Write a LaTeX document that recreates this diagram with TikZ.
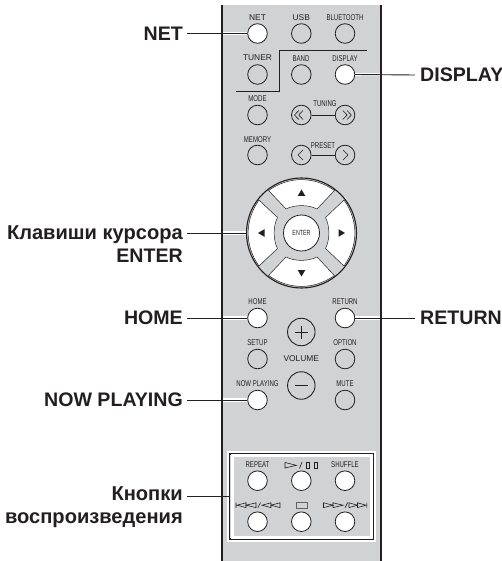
\documentclass[tikz,border=0pt]{standalone}
\usepackage{fontspec}
\setmainfont{Liberation Sans}
\newfontfamily\narrowf[FakeStretch=0.72]{Liberation Sans}
\definecolor{panelc}{HTML}{D1D2D4}
\definecolor{inkc}{HTML}{231F20}
\newcommand{\cyrsize}{\fontsize{20.1}{23}\selectfont}
\tikzset{
  x=1pt,y=-1pt,
  btn/.style={circle,draw=inkc,line width=.8pt,inner sep=0,minimum size=19.6pt,fill=panelc},
  wbtn/.style={btn,fill=white},
  big/.style={circle,draw=inkc,line width=.9pt,inner sep=0,minimum size=27.5pt,fill=panelc},
  wcap/.style={inner sep=0,text=inkc,font=\fontsize{8.4}{9}\selectfont},
  ncap/.style={inner sep=0,text=inkc,font=\fontsize{8.4}{9}\narrowf},
  lab/.style={inner sep=0,text=inkc,align=right,font=\fontsize{19.6}{23}\selectfont\bfseries},
  conn/.style={draw=inkc,line width=.9pt},
  halo/.style={draw=white,line width=3.6pt},
  icon/.style={draw=inkc,line width=.6pt,line join=miter},
}
\begin{document}
\begin{tikzpicture}
\useasboundingbox (0,0) rectangle (502,561);
% panel
\fill[panelc] (222,5) rectangle (381,561);
\draw[inkc,line width=1.8pt] (222,5) -- (222,561) (381,5) -- (381,561);
\coordinate (pw) at (223.2,0);
\coordinate (pe) at (379.8,0);
% tuner divider
\draw[inkc,line width=.6pt] (367,50.5) -- (279,50.5) -- (279,91.3) -- (236,91.3);
% buttons
\node[wbtn] (bnet) at (257.5,33.5) {};
\node[btn] (busb) at (301.3,33.5) {};
\node[btn] (bbt) at (345,33.5) {};
\node[btn] (btuner) at (257.5,74.5) {};
\node[btn] (bband) at (301.3,74.5) {};
\node[wbtn] (bdisp) at (345,74.5) {};
\node[btn] (bmode) at (257.5,115) {};
\node[btn] (btl) at (301.3,115) {};
\node[btn] (btr) at (345,115) {};
\node[btn] (bmem) at (257.5,155) {};
\node[btn] (bpl) at (301.3,155) {};
\node[btn] (bpr) at (345,155) {};
\node[wbtn] (bhome) at (257.5,318) {};
\node[wbtn] (bret) at (345,318) {};
\node[btn] (bsetup) at (257.5,359) {};
\node[btn] (bopt) at (345,359) {};
\node[wbtn] (bnow) at (257.5,400) {};
\node[btn] (bmute) at (345,400) {};
\node[big] (bplus) at (301.3,332) {};
\node[big] (bminus) at (301.3,385.5) {};
\draw[inkc,line width=.9pt] (294.5,332) -- (308,332) (301.3,325.5) -- (301.3,338.5);
\draw[inkc,line width=1.4pt] (294.5,385.5) -- (308,385.5);
\draw[inkc,line width=.7pt] (btl) -- (btr) (bpl) -- (bpr);
% chevrons
\draw[icon] (298.8,110.5) -- (294.5,115) -- (298.8,119.5) (303,110.5) -- (298.7,115) -- (303,119.5);
\draw[icon] (342.8,110.5) -- (347.1,115) -- (342.8,119.5) (347,110.5) -- (351.3,115) -- (347,119.5);
\draw[icon] (303,150) -- (298,155) -- (303,160);
\draw[icon] (343,150) -- (348,155) -- (343,160);
% small captions
\node[wcap] (cnet) at (257.5,18) {NET};
\node[wcap] (cusb) at (301.3,18) {USB};
\node[ncap] (cbt) at (345,18) {BLUETOOTH};
\node[wcap] (ctuner) at (257.5,58) {TUNER};
\node[ncap] (cband) at (301,59) {BAND};
\node[ncap] (cdisp) at (345,59) {DISPLAY};
\node[ncap] (cmode) at (257.5,99) {MODE};
\node[ncap] (ctun) at (325,104) {TUNING};
\node[ncap] (cmem) at (257.5,139.5) {MEMORY};
\node[ncap] (cpre) at (323,146) {PRESET};
\node[ncap] (chome) at (257.5,302) {HOME};
\node[ncap] (cret) at (345,302) {RETURN};
\node[ncap] (csetup) at (257.5,343) {SETUP};
\node[ncap] (copt) at (345,343) {OPTION};
\node[wcap] (cvol) at (301.3,359) {VOLUME};
\node[ncap] (cnow) at (257.5,384) {NOW PLAYING};
\node[ncap] (cmute) at (345,384) {MUTE};
% d-pad
\node[circle,draw=inkc,fill=panelc,line width=1.1pt,inner sep=0,minimum size=110pt] (dpad) at (301.5,233) {};
\foreach \a in {0,90,180,270}{
  \begin{scope}[shift={(dpad.center)},rotate=\a]
    \draw[fill=white,draw=inkc,line width=.5pt,line join=round]
      (-33,-42.5) .. controls (-12.5,-57) and (12.5,-57) .. (33,-42.5)
      -- (15.5,-24) .. controls (7,-28.5) and (-7,-28.5) .. (-15.5,-24) -- cycle;
    \fill[inkc] (0,-43.5) -- (3.8,-37) -- (-3.8,-37) -- cycle;
  \end{scope}
}
\node[circle,draw=inkc,fill=white,line width=.8pt,inner sep=0,minimum size=36pt,font=\fontsize{7.4}{8}\narrowf,text=inkc] (benter) at (301.5,233) {ENTER};
% playback group
\node[draw=white,line width=3pt,fill=none,minimum width=146pt,minimum height=88pt,inner sep=0] (ghalo) at (301.5,496.5) {};
\node[draw=inkc,line width=1.1pt,minimum width=143.5pt,minimum height=85pt,inner sep=0] (gbox) at (301.5,496.5) {};
\draw[white,line width=3pt] (232,455.8) rectangle (371,537.2);
\node[wbtn] (brep) at (257.5,480.7) {};
\node[wbtn] (bplay) at (301.3,480.7) {};
\node[wbtn] (bshuf) at (345,480.7) {};
\node[wbtn] (bprev) at (257.5,521.7) {};
\node[wbtn] (bstop) at (301.3,521.7) {};
\node[wbtn] (bnext) at (345,521.7) {};
\node[ncap] (crep) at (257.5,465) {REPEAT};
\node[ncap] (cshuf) at (345,465) {SHUFFLE};
% playback icons
\draw[icon] (285,462.5) -- (296.5,465.3) -- (285,468) -- cycle;
\draw[icon] (299.5,468.5) -- (302,462);
\draw[icon] (306.3,462.3) rectangle (309.3,468.3) (313.8,462.3) rectangle (317.3,468.3);
\draw[draw=inkc!70,line width=.6pt] (295.8,502) rectangle (307.2,508.3);
\draw[icon] (236,502.5) -- (236,507.8)
  (237,505.2) -- (246,502.8) -- (246,507.6) -- cycle
  (246,505.2) -- (256,502.8) -- (256,507.6) -- cycle
  (257.8,507.8) -- (260.5,502.5)
  (262,505.2) -- (271,502.8) -- (271,507.6) -- cycle
  (271,505.2) -- (280,502.8) -- (280,507.6) -- cycle;
\draw[icon] (323.5,502.8) -- (323.5,507.6) -- (333,505.2) -- cycle
  (333,502.8) -- (333,507.6) -- (343,505.2) -- cycle
  (345,507.8) -- (347.7,502.5)
  (349,502.8) -- (349,507.6) -- (357.5,505.2) -- cycle
  (357.5,502.8) -- (357.5,507.6) -- (366,505.2) -- cycle
  (366.8,502.5) -- (366.8,507.8);
% labels
\node[lab,anchor=east] (lnet) at (183,33.5) {NET};
\node[lab,anchor=east] (lcur) at (183,244) {{\cyrsize Клавиши курсора}\\ENTER};
\node[lab,anchor=east] (lhome) at (183,318) {HOME};
\node[lab,anchor=east] (lnow) at (183,400) {NOW PLAYING};
\node[lab,anchor=east] (lpb) at (183,507.5) {{\cyrsize Кнопки}\\{\cyrsize воспроизведения}};
\node[lab,anchor=west] (ldisp) at (420,75) {DISPLAY};
\node[lab,anchor=west] (lret) at (420,318) {RETURN};
\coordinate (lcurr) at (187,233);
\coordinate (lpbr) at (187,496.5);
% connectors
\draw[halo] (bnet.west) -- (pw |- bnet.west);
\draw[halo] (dpad.west) -- (pw |- dpad.west);
\draw[halo] (bhome.west) -- (pw |- bhome.west);
\draw[halo] (bnow.west) -- (pw |- bnow.west);
\draw[halo] (bdisp.east) -- (pe |- bdisp.east);
\draw[halo] (bret.east) -- (pe |- bret.east);
\draw[conn] ([xshift=4pt]lnet.east) -- (bnet.west);
\draw[conn] (lcurr) -- (dpad.west);
\draw[conn] ([xshift=4pt]lhome.east) -- (bhome.west);
\draw[conn] ([xshift=4pt]lnow.east) -- (bnow.west);
\draw[conn] (lpbr) -- (gbox.west);
\draw[conn] (bdisp.east) -- ([xshift=-5pt]ldisp.west);
\draw[conn] (bret.east) -- ([xshift=-5pt]lret.west);
\end{tikzpicture}
\end{document}
